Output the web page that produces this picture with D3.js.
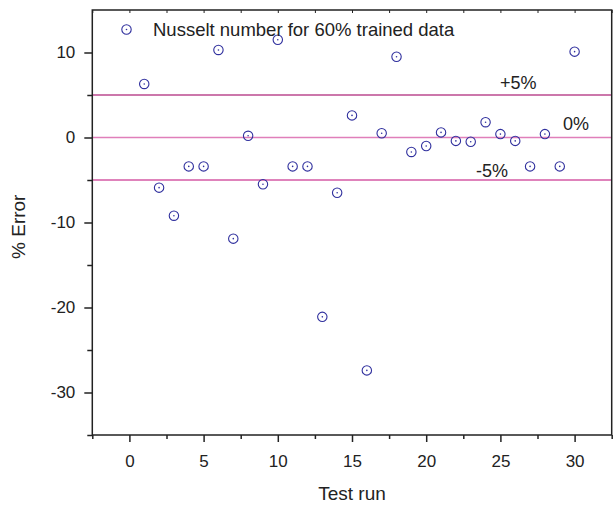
<!DOCTYPE html>
<html>
<head>
<meta charset="utf-8">
<script src="https://cdn.jsdelivr.net/npm/d3@7"></script>
<style>
  html, body { margin: 0; padding: 0; background: #fff; }
  svg { display: block; font-family: "Liberation Sans", Arial, sans-serif; }
</style>
</head>
<body>
<svg id="chart" width="613" height="507"></svg>
<script>
// Test runs and their percentage error
const testRuns = [1, 2, 3, 4, 5, 6, 7, 8, 9, 10, 11, 12, 13, 14, 15,
                  16, 17, 18, 19, 20, 21, 22, 23, 24, 25, 26, 27, 28, 29, 30];
const errorPct = [6.3, -5.9, -9.2, -3.4, -3.4, 10.3, -11.9, 0.2, -5.5, 11.5,
                  -3.4, -3.4, -21.1, -6.5, 2.6, -27.4, 0.5, 9.5, -1.7, -1.0,
                  0.6, -0.4, -0.5, 1.8, 0.4, -0.4, -3.4, 0.4, -3.4, 10.1];
const seriesName = "Nusselt number for 60% trained data";

// Reference bands
const refValues = [5, 0, -5];
const refLabels = ["+5%", "0%", "-5%"];

const xTicks = [0, 5, 10, 15, 20, 25, 30];
const xMinor = [-2.5, 2.5, 7.5, 12.5, 17.5, 22.5, 27.5, 32.5];
const yTicks = [10, 0, -10, -20, -30];
const yMinor = [5, -5, -15, -25, -35];

const svg = d3.select("#chart");
const plotL = 92.3, plotR = 611.7, plotT = 10, plotB = 435;

const x = d3.scaleLinear().domain([-2.5, 32.5]).range([plotL, plotR]);
const y = d3.scaleLinear().domain([-35, 15]).range([plotB, plotT]);

const axisColor = "#222";
const textColor = "#222";
const fontFam = "Liberation Sans, Arial, sans-serif";
const plainNum = d => String(d);

// Reference lines
const refColors = ["#bb4a8f", "#e07fba", "#d45aa5"];
const refLabelPos = [[500, 89], [563, 130], [476, 177]];
const refG = svg.append("g");
refValues.forEach((v, i) => {
  refG.append("line")
    .attr("x1", plotL).attr("x2", plotR)
    .attr("y1", y(v)).attr("y2", y(v))
    .attr("stroke", refColors[i]).attr("stroke-width", 1.6);
  refG.append("text")
    .attr("x", refLabelPos[i][0]).attr("y", refLabelPos[i][1])
    .attr("font-size", 18).attr("fill", textColor)
    .text(refLabels[i]);
});

// Axes: bottom and left with outward ticks
const xAxis = d3.axisBottom(x).tickValues(xTicks).tickSize(7).tickPadding(13)
  .tickFormat(plainNum);
const gx = svg.append("g").attr("transform", `translate(0,${plotB})`).call(xAxis);
gx.select(".domain").remove();
gx.selectAll(".tick line").attr("stroke", axisColor).attr("stroke-width", 1.5);
gx.selectAll(".tick text").attr("font-size", 17).attr("fill", textColor)
  .attr("font-family", fontFam);

const xMin = svg.append("g").attr("transform", `translate(0,${plotB})`)
  .call(d3.axisBottom(x).tickValues(xMinor).tickSize(4).tickFormat(""));
xMin.select(".domain").remove();
xMin.selectAll(".tick line").attr("stroke", axisColor).attr("stroke-width", 1.5);

const yAxis = d3.axisLeft(y).tickValues(yTicks).tickSize(8).tickPadding(9)
  .tickFormat(plainNum);
const gy = svg.append("g").attr("transform", `translate(${plotL},0)`).call(yAxis);
gy.select(".domain").remove();
gy.selectAll(".tick line").attr("stroke", axisColor).attr("stroke-width", 1.5);
gy.selectAll(".tick text").attr("font-size", 17).attr("fill", textColor)
  .attr("font-family", fontFam);

const yMin = svg.append("g").attr("transform", `translate(${plotL},0)`)
  .call(d3.axisLeft(y).tickValues(yMinor).tickSize(5).tickFormat(""));
yMin.select(".domain").remove();
yMin.selectAll(".tick line").attr("stroke", axisColor).attr("stroke-width", 1.5);

// Top axis with small inward ticks
const xTop = svg.append("g").attr("transform", `translate(0,${plotT})`)
  .call(d3.axisBottom(x).tickValues(xTicks.concat(xMinor)).tickSize(3).tickFormat(""));
xTop.select(".domain").remove();
xTop.selectAll(".tick line").attr("stroke", axisColor).attr("stroke-width", 1);

// Frame
svg.append("rect")
  .attr("x", plotL).attr("y", plotT)
  .attr("width", plotR - plotL).attr("height", plotB - plotT)
  .attr("fill", "none").attr("stroke", axisColor).attr("stroke-width", 1.5);

// Axis titles
svg.append("text")
  .attr("x", 352).attr("y", 500)
  .attr("text-anchor", "middle").attr("font-size", 19).attr("fill", textColor)
  .text("Test run");
svg.append("text")
  .attr("transform", `translate(25,${y(-10.5)}) rotate(-90)`)
  .attr("text-anchor", "middle").attr("font-size", 19).attr("fill", textColor)
  .text("% Error");

// Data markers: open circle with a center dot
const markerColor = "#30309e";
function marker(g) {
  g.append("circle").attr("r", 4.7)
    .attr("fill", "none").attr("stroke", markerColor).attr("stroke-width", 1.1);
  g.append("circle").attr("r", 0.8).attr("fill", markerColor);
}

const pts = svg.append("g").selectAll("g")
  .data(testRuns.map((t, i) => ({ t, v: errorPct[i] })))
  .join("g")
  .attr("transform", d => `translate(${x(d.t)},${y(d.v)})`);
pts.each(function () { marker(d3.select(this)); });

// Legend
const leg = svg.append("g").attr("transform", "translate(126.5,29.5)");
marker(leg);
svg.append("text")
  .attr("x", 153).attr("y", 36)
  .attr("font-size", 18.5).attr("fill", textColor)
  .text(seriesName);
</script>
</body>
</html>
